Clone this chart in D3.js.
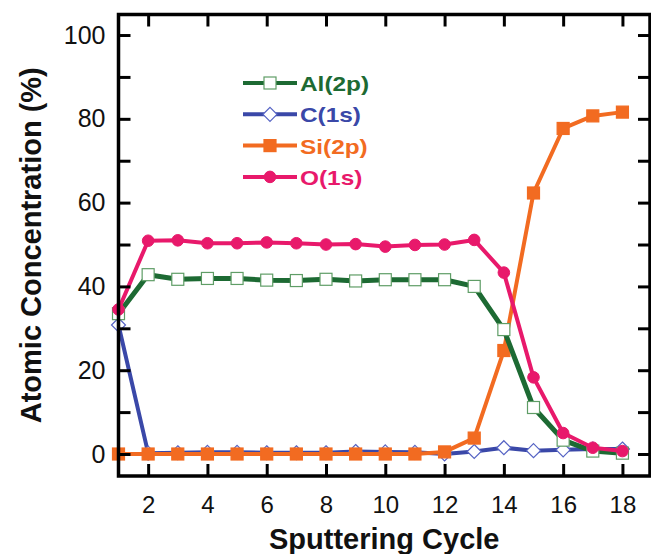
<!DOCTYPE html>
<html>
<head>
<meta charset="utf-8">
<script src="https://cdn.jsdelivr.net/npm/d3@7/dist/d3.min.js"></script>
<style>
  body { margin: 0; background: #fff; }
  text { font-family: "Liberation Sans", Arial, Helvetica, sans-serif; }
</style>
</head>
<body>
<div id="chart"></div>
<script>
var cycles = [1, 2, 3, 4, 5, 6, 7, 8, 9, 10, 11, 12, 13, 14, 15, 16, 17, 18];
var al2p = [33.5, 42.8, 41.7, 41.9, 41.9, 41.5, 41.4, 41.7, 41.3, 41.6, 41.6, 41.6, 40.0, 29.7, 11.1, 3.3, 0.7, 0.2];
var c1s  = [30.8, 0.2, 0.3, 0.4, 0.4, 0.3, 0.3, 0.3, 0.6, 0.5, 0.4, 0.0, 0.6, 1.5, 0.8, 1.0, 1.2, 1.2];
var si2p = [0, 0, 0, 0, 0, 0, 0, 0, 0, 0, 0, 0.5, 3.8, 24.7, 62.3, 77.7, 80.7, 81.6];
var o1s  = [34.5, 50.9, 51.0, 50.3, 50.3, 50.5, 50.3, 50.0, 50.1, 49.5, 49.9, 50.0, 51.1, 43.3, 18.3, 5.0, 1.5, 0.7];
var seriesNames = ["Al(2p)", "C(1s)", "Si(2p)", "O(1s)"];
var xTickValues = [2, 4, 6, 8, 10, 12, 14, 16, 18];
var yTickLabels = [0, 20, 40, 60, 80, 100];
var yTickMinor = [0, 10, 20, 30, 40, 50, 60, 70, 80, 90, 100];

var width = 651, height = 554;
var plot = { left: 118.5, right: 650, top: 14.5, bottom: 476 };

var styles = {
  "Al(2p)": { line: "#1d6a33", marker: "square", fill: "#fff", stroke: "#5f9d66", lw: 5 },
  "C(1s)":  { line: "#3a48a8", marker: "diamond", fill: "#fff", stroke: "#5563c4", lw: 4 },
  "Si(2p)": { line: "#f26b21", marker: "square", fill: "#f26b21", stroke: "#f26b21", lw: 4 },
  "O(1s)":  { line: "#e8196b", marker: "circle", fill: "#e8196b", stroke: "#e8196b", lw: 4 }
};
var values = { "Al(2p)": al2p, "C(1s)": c1s, "Si(2p)": si2p, "O(1s)": o1s };

var xScale = d3.scaleLinear().domain([1, 18.93]).range([plot.left, plot.right]);
var yScale = d3.scaleLinear().domain([-5.25, 104.9]).range([plot.bottom, plot.top]);

var svg = d3.select('#chart').append('svg')
  .attr('width', width)
  .attr('height', height);

function marker(sel, st) {
  if (st.marker === "circle") {
    sel.append('circle').attr('r', 5.8)
      .attr('fill', st.fill).attr('stroke', st.stroke);
  } else if (st.marker === "diamond") {
    sel.append('path').attr('d', 'M0,-7L7,0L0,7L-7,0Z')
      .attr('fill', st.fill).attr('stroke', st.stroke).attr('stroke-width', 1.2);
  } else {
    sel.append('rect').attr('x', -6).attr('y', -6).attr('width', 12).attr('height', 12)
      .attr('fill', st.fill).attr('stroke', st.stroke).attr('stroke-width', 1.2);
  }
}

// series, drawn C first so orange/green/pink lie on top
var order = ["C(1s)", "Si(2p)", "Al(2p)", "O(1s)"];
var line = d3.line()
  .x(function(d) { return xScale(d[0]); })
  .y(function(d) { return yScale(d[1]); });

order.forEach(function(name) {
  var st = styles[name];
  var pts = cycles.map(function(c, i) { return [c, values[name][i]]; });
  var g = svg.append('g');
  g.append('path')
    .datum(pts)
    .attr('d', line)
    .attr('fill', 'none')
    .attr('stroke', st.line)
    .attr('stroke-width', st.lw)
    .attr('stroke-linejoin', 'round');
  g.selectAll('g.pt').data(pts).enter().append('g')
    .attr('class', 'pt')
    .attr('transform', function(d) { return 'translate(' + xScale(d[0]) + ',' + yScale(d[1]) + ')'; })
    .each(function() { marker(d3.select(this), st); });
});

// axes: ticks inward, mirrored on top and right
var axW = 3.5;
var bottomAxis = d3.axisBottom(xScale).tickValues(xTickValues).tickSize(-12).tickPadding(20).tickSizeOuter(0);
var topAxis = d3.axisTop(xScale).tickValues(xTickValues).tickSize(-12).tickFormat('').tickSizeOuter(0);
var leftAxis = d3.axisLeft(yScale).tickValues(yTickMinor).tickSize(-12).tickPadding(13).tickSizeOuter(0)
  .tickFormat(function(d) { return yTickLabels.indexOf(d) >= 0 ? d : ''; });
var rightAxis = d3.axisRight(yScale).tickValues(yTickMinor).tickSize(-12).tickFormat('').tickSizeOuter(0);

function styleAxis(g, size) {
  g.select('.domain').remove();
  g.selectAll('.tick line').attr('stroke', '#000').attr('stroke-width', 3);
  g.selectAll('.tick text').attr('fill', '#111').style('font-size', size);
}

svg.append('g').attr('transform', 'translate(0,' + plot.bottom + ')').call(bottomAxis).call(styleAxis, '24px');
svg.append('g').attr('transform', 'translate(0,' + plot.top + ')').call(topAxis).call(styleAxis, '24px');
svg.append('g').attr('transform', 'translate(' + plot.left + ',0)').call(leftAxis).call(styleAxis, '25px');
svg.append('g').attr('transform', 'translate(' + plot.right + ',0)').call(rightAxis).call(styleAxis, '25px');

svg.append('rect')
  .attr('x', plot.left).attr('y', plot.top)
  .attr('width', plot.right - plot.left).attr('height', plot.bottom - plot.top)
  .attr('fill', 'none').attr('stroke', '#000').attr('stroke-width', axW);

// axis titles
svg.append('text')
  .attr('x', (plot.left + plot.right) / 2)
  .attr('y', 549)
  .attr('text-anchor', 'middle')
  .style('font-size', '29px').style('font-weight', 'bold').attr('fill', '#111')
  .text('Sputtering Cycle');

svg.append('text')
  .attr('transform', 'translate(41,' + ((plot.top + plot.bottom) / 2) + ') rotate(-90)')
  .attr('text-anchor', 'middle')
  .style('font-size', '29px').style('font-weight', 'bold').attr('fill', '#111')
  .text('Atomic Concentration (%)');

// legend
var legend = svg.append('g').attr('transform', 'translate(243,83)');
seriesNames.forEach(function(name, i) {
  var st = styles[name];
  var row = legend.append('g').attr('transform', 'translate(0,' + (i * 31.3) + ')');
  row.append('line').attr('x1', 0).attr('x2', 54).attr('y1', 0).attr('y2', 0)
    .attr('stroke', st.line).attr('stroke-width', 4);
  var m = row.append('g').attr('transform', 'translate(27,0)');
  marker(m, st);
  row.append('text')
    .attr('transform', 'translate(57,8) scale(1.22,1)')
    .style('font-size', '20px').style('font-weight', 'bold')
    .attr('fill', st.line)
    .text(name);
});
</script>
</body>
</html>
